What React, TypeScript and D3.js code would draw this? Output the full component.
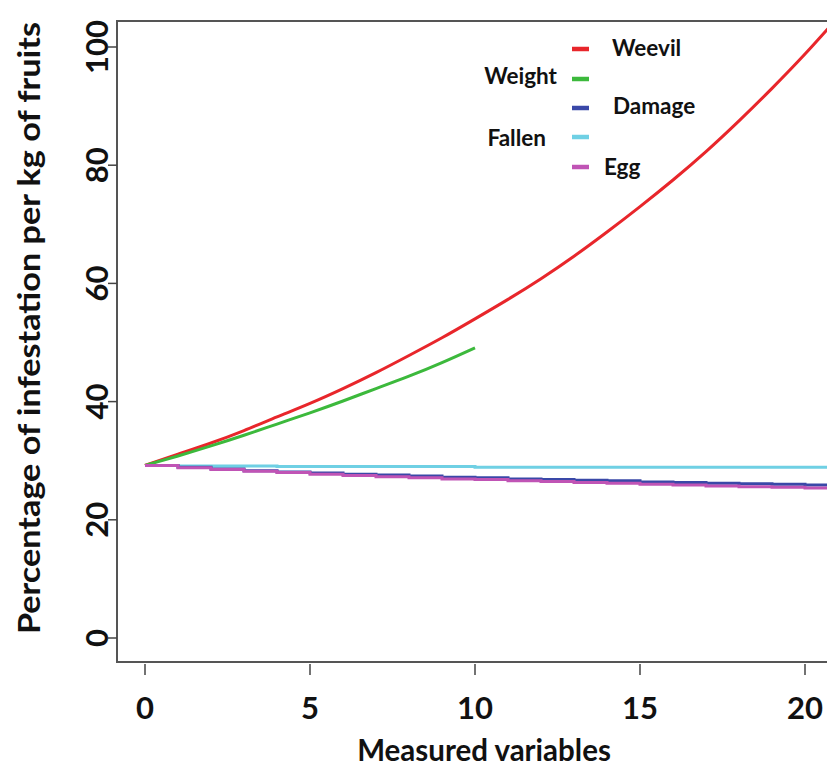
import React, { useRef, useEffect } from 'react';
import * as d3 from 'd3';

const X_VALUES = [0, 1, 2, 3, 4, 5, 6, 7, 8, 9, 10, 11, 12, 13, 14, 15, 16, 17, 18, 19, 20, 21];
const WEEVIL = [29.2, 31.1, 33.0, 35.1, 37.4, 39.7, 42.2, 44.9, 47.8, 50.8, 54.0, 57.3, 60.8, 64.6, 68.7, 73.0, 77.5, 82.3, 87.5, 93.0, 98.8, 105.0];
const WEIGHT = [29.2, 30.8, 32.5, 34.3, 36.2, 38.1, 40.1, 42.2, 44.3, 46.6, 49.1];
const DAMAGE = [29.2, 28.9, 28.6, 28.3, 28.1, 27.9, 27.7, 27.6, 27.4, 27.2, 27.1, 26.9, 26.8, 26.7, 26.6, 26.4, 26.3, 26.2, 26.1, 26.0, 25.9, 25.8];
const FALLEN = [29.2, 29.1, 29.1, 29.1, 29.0, 29.0, 29.0, 29.0, 29.0, 29.0, 28.9, 28.9, 28.9, 28.9, 28.9, 28.9, 28.9, 28.9, 28.9, 28.9, 28.9, 28.9];
const EGG = [29.2, 28.8, 28.5, 28.2, 28.0, 27.7, 27.5, 27.3, 27.1, 26.9, 26.8, 26.6, 26.5, 26.3, 26.2, 26.0, 25.9, 25.7, 25.6, 25.5, 25.4, 25.3];

const X_TICKS = [0, 5, 10, 15, 20];
const Y_TICKS = [0, 20, 40, 60, 80, 100];

const SERIES = [
  { name: 'Weevil', values: WEEVIL, color: '#e8262b', step: false },
  { name: 'Weight', values: WEIGHT, color: '#3cb93c', step: false },
  { name: 'Fallen', values: FALLEN, color: '#6fd0e4', step: true },
  { name: 'Damage', values: DAMAGE, color: '#3a48a8', step: true },
  { name: 'Egg', values: EGG, color: '#c054b5', step: true },
];

const LEGEND_NAMES = ['Weevil', 'Weight', 'Damage', 'Fallen', 'Egg'];
const LEGEND_COLORS = ['#e8262b', '#3cb93c', '#3a48a8', '#6fd0e4', '#c054b5'];

const FONT = 'Lato, "Open Sans", sans-serif';

function Chart() {
  const ref = useRef<SVGSVGElement>(null);

  useEffect(() => {
    const svg = d3.select(ref.current);
    svg.selectAll('*').remove();

    const left = 117;
    const top = 21;
    const bottom = 662;

    const x = d3.scaleLinear().domain([0, 20]).range([145, 805]);
    const y = d3.scaleLinear().domain([0, 100]).range([638, 47]);

    svg.append('rect').attr('width', 827).attr('height', 768).attr('fill', '#fff');

    svg.append('clipPath').attr('id', 'plot-clip')
      .append('rect').attr('x', left).attr('y', top).attr('width', 900).attr('height', bottom - top);

    // lines
    const g = svg.append('g').attr('clip-path', 'url(#plot-clip)');
    SERIES.forEach(s => {
      const line = d3.line<number>()
        .x((d, i) => x(X_VALUES[i]))
        .y(d => y(d))
        .curve(s.step ? d3.curveStepAfter : d3.curveNatural);
      g.append('path')
        .datum(s.values)
        .attr('d', line)
        .attr('fill', 'none')
        .attr('stroke', s.color)
        .attr('stroke-width', 3);
    });

    // frame
    svg.append('path')
      .attr('d', `M900,${top}H${left}V${bottom}H900`)
      .attr('fill', 'none')
      .attr('stroke', '#555')
      .attr('stroke-width', 2);

    // x ticks
    X_TICKS.forEach(t => {
      svg.append('line')
        .attr('x1', x(t)).attr('x2', x(t))
        .attr('y1', bottom + 2).attr('y2', bottom + 13)
        .attr('stroke', '#444').attr('stroke-width', 1.5);
      svg.append('text')
        .attr('x', x(t)).attr('y', 719)
        .attr('text-anchor', 'middle')
        .style('font-family', FONT).style('font-weight', 'bold').style('font-size', '31px')
        .attr('fill', '#111')
        .text(t);
    });

    // y ticks
    Y_TICKS.forEach(t => {
      svg.append('line')
        .attr('x1', left - 9).attr('x2', left)
        .attr('y1', y(t)).attr('y2', y(t))
        .attr('stroke', '#444').attr('stroke-width', 1.5);
      svg.append('text')
        .attr('transform', `translate(108, ${y(t)}) rotate(-90)`)
        .attr('text-anchor', 'middle')
        .style('font-family', FONT).style('font-weight', 'bold').style('font-size', '31px')
        .attr('fill', '#111')
        .text(t);
    });

    // axis titles
    svg.append('text')
      .attr('x', 484).attr('y', 761)
      .attr('text-anchor', 'middle')
      .style('font-family', FONT).style('font-weight', 'bold').style('font-size', '29.5px')
      .attr('fill', '#111')
      .text('Measured variables');

    svg.append('text')
      .attr('transform', 'translate(40, 328) rotate(-90)')
      .attr('text-anchor', 'middle')
      .style('font-family', FONT).style('font-weight', 'bold').style('font-size', '30px')
      .attr('textLength', 612)
      .attr('lengthAdjust', 'spacingAndGlyphs')
      .attr('fill', '#111')
      .text('Percentage of infestation per kg of fruits');

    // legend: odd rows put the label left of the swatch
    const swatchY = [49, 79, 108, 137, 167];
    const textY = [56, 84, 114, 146, 175];
    const textX = [612, 557, 613, 546, 604];
    LEGEND_NAMES.forEach((name, i) => {
      svg.append('line')
        .attr('x1', 572).attr('x2', 589)
        .attr('y1', swatchY[i]).attr('y2', swatchY[i])
        .attr('stroke', LEGEND_COLORS[i]).attr('stroke-width', 4.5);
      svg.append('text')
        .attr('x', textX[i])
        .attr('y', textY[i])
        .attr('text-anchor', i % 2 === 1 ? 'end' : 'start')
        .style('font-family', FONT).style('font-weight', 'bold').style('font-size', '22.5px')
        .attr('fill', '#111')
        .text(name);
    });
  }, []);

  return <svg ref={ref} width={827} height={768} style={{ position: 'absolute', left: 0, top: 0 }} />;
}

export default function App() {
  return <Chart />;
}
